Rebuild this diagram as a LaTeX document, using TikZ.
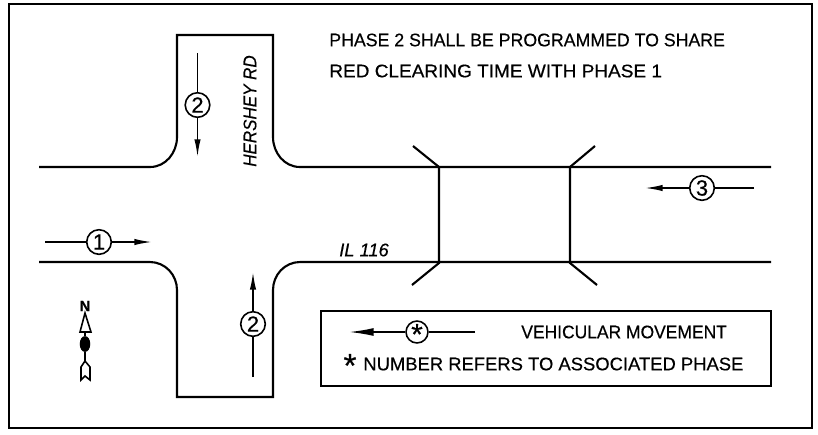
\documentclass[tikz,border=0pt]{standalone}
\usepackage{fontspec}
\setmainfont[FakeBold=0.4]{Liberation Sans}
\usetikzlibrary{arrows.meta, positioning, shapes.geometric}
\tikzset{larrow/.style = {-{Latex[length=10pt,width=3.6pt]}, line width=.9pt}}
\tikzset{plain/.style = {line width=.9pt}}
\tikzset{road/.style = {line width=1.2pt}}
\tikzset{phase/.style = {circle, draw, line width=.9pt, inner sep=0pt, minimum size=14pt, font=\fontsize{12.5}{12.5}\selectfont}}
\tikzset{notice/.style = {inner sep=0pt, anchor=west, font=\fontsize{10.4}{11}\selectfont}}

\begin{document}
\begin{tikzpicture}[x=.02cm, y=-.02cm]
    \useasboundingbox (0,0) rectangle (818,434);
    \node[draw, line width=1.2pt, minimum width=803*.02cm, minimum height=424*.02cm, inner sep=0pt] (frame) at (410.5,216) {};

    % road edges
    \coordinate (nwend) at (39,167);
    \coordinate (swend) at (39,262);
    \coordinate (neend) at (771,167);
    \coordinate (seend) at (771,262);
    \coordinate (ntopl) at (177,35);
    \coordinate (ntopr) at (273,35);
    \coordinate (sbotl) at (177,397);
    \coordinate (sbotr) at (273,397);
    \draw[road] (nwend) -- (150,167) to[out=0, in=-90] (177,137) -- (ntopl) -- (ntopr) -- (273,137) to[out=-90, in=180] (300,167) -- (neend);
    \draw[road] (swend) -- (150,262) to[out=0, in=90] (177,290) -- (sbotl) -- (sbotr) -- (273,290) to[out=90, in=180] (300,262) -- (seend);

    % crossing
    \coordinate (cwn) at (439,167);
    \coordinate (cws) at (439,263);
    \coordinate (cen) at (570,167);
    \coordinate (ces) at (570,263);
    \draw[road] (413,146) -- (cwn) -- (cws) -- (412,285);
    \draw[road] (595,146) -- (cen) -- (ces) -- (597,285);

    % phases
    \foreach \Name/\Pos/\Label/\From/\To in {%
        one/{99,242}/1/{45,242}/{152,242},
        twon/{197.5,105}/2/{197.5,53}/{197.5,157},
        twos/{253,324}/2/{253,377}/{253,272},
        three/{702,188}/3/{754,188}/{645,188}%
    }{
        \node[phase] (\Name) at (\Pos) {\Label};
        \coordinate (\Name from) at (\From);
        \coordinate (\Name to) at (\To);
        \draw[plain] (\Name from) -- (\Name);
        \draw[larrow] (\Name) -- (\Name to);
    }

    % road names
    \node[inner sep=0pt, rotate=90, font=\fontsize{10.4}{11}\selectfont\itshape, xscale=.93] (hershey) at (250,111) {HERSHEY RD};
    \node[inner sep=0pt, font=\fontsize{10.4}{11}\selectfont\itshape] (il) at (364,250) {IL 116};

    % note
    \node[notice, xscale=.97] (line1) at (329,40) {PHASE 2 SHALL BE PROGRAMMED TO SHARE};
    \node[notice, xscale=1.04] (line2) at (329,71) {RED CLEARING TIME WITH PHASE 1};

    % legend
    \node[draw, line width=1.2pt, minimum width=450*.02cm, minimum height=75*.02cm, inner sep=0pt] (legend) at (546,348.5) {};
    \node[phase, minimum size=12.5pt, font=\fontsize{17}{17}\selectfont] (star) at (417,332) {\smash{\raisebox{-.42em}{*}}};
    \coordinate (starfrom) at (475,332);
    \coordinate (starto) at (349,332);
    \draw[plain] (starfrom) -- (star);
    \draw[line width=.9pt, -{Latex[length=14pt,width=4.5pt]}] (star) -- (starto);
    \node[notice, xscale=.955] (vehicular) at (521,332) {VEHICULAR MOVEMENT};
    \node[inner sep=0pt, font=\fontsize{19}{19}\selectfont] (mark) at (350,363) {\smash{\raisebox{-.42em}{*}}};
    \node[notice, xscale=1.008] (number) at (363,364) {NUMBER REFERS TO ASSOCIATED PHASE};

    % north mark
    \node[inner sep=0pt, font=\fontsize{8.5}{9}\selectfont\bfseries] (north) at (85,306) {N};
    \coordinate (ntip) at (85,313);
    \draw[plain] (ntip) -- (91,332) -- (80,332) -- cycle;
    \node[ellipse, fill=black, inner sep=0pt, minimum width=6pt, minimum height=9pt] (hub) at (85,344) {};
    \draw[plain] (85,332) -- (hub);
    \draw[plain] (hub) -- (85,361);
    \draw[plain] (85,361) -- (81,367) -- (81,380) -- (85,376) -- (90,380) -- (90,367) -- cycle;
\end{tikzpicture}
\end{document}
